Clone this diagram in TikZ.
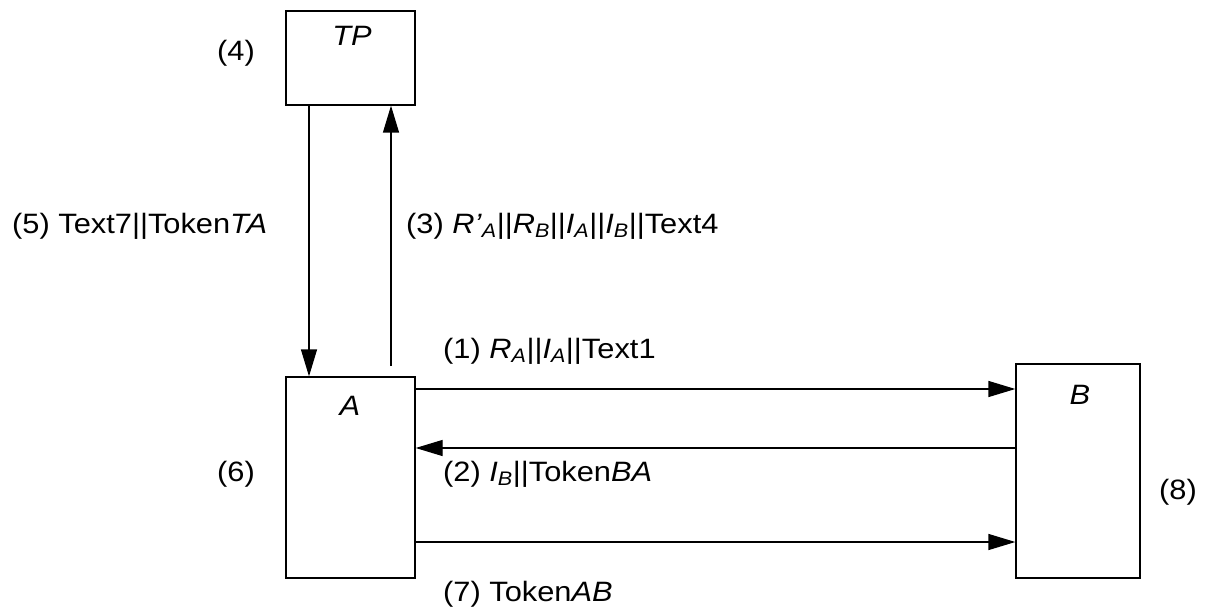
\documentclass[tikz,border=0pt]{standalone}
\usepackage{fontspec}
\setmainfont{Liberation Sans}[FakeStretch=1.1]
\usetikzlibrary{arrows.meta}
\newcommand\subi[1]{\textsubscript{\itshape #1}}
\begin{document}
\begin{tikzpicture}[x=1pt,y=-1pt,
  box/.style={draw,line width=1.3pt,inner sep=0pt},
  lbl/.style={inner sep=0pt,font=\fontsize{28}{34}\selectfont},
  arr/.style={line width=1.3pt,-{Triangle[length=27pt,width=16pt]}}]
\useasboundingbox (0,0) rectangle (1205,607);
% boxes
\node[box,minimum width=129pt,minimum height=94pt] (TP) at (350.5,58) {};
\node[box,minimum width=129pt,minimum height=201pt] (A) at (350.5,477.5) {};
\node[box,minimum width=124pt,minimum height=214pt] (B) at (1078,471) {};
% box labels
\node[lbl,anchor=base] (tpl) at (352,46) {\itshape TP};
\node[lbl,anchor=base] (al) at (350,415) {\itshape A};
\node[lbl,anchor=base] (bl) at (1080,404) {\itshape B};
\node[lbl,anchor=base] (n4) at (236,61) {(4)};
\node[lbl,anchor=base] (n6) at (236,481) {(6)};
\node[lbl,anchor=base] (n8) at (1178,499) {(8)};
% vertical arrows
\coordinate (xd) at (309,0);
\coordinate (xu) at (391,0);
\coordinate (us) at (391,366);
\draw[arr] (TP.south -| xd) -- (A.north -| xd);
\draw[arr] (us) -- (TP.south -| xu);
% horizontal arrows
\coordinate (y1) at (0,389);
\coordinate (y2) at (0,448);
\coordinate (y7) at (0,542);
\draw[arr] (A.east |- y1) -- (B.west |- y1);
\draw[arr] (B.west |- y2) -- (A.east |- y2);
\draw[arr] (A.east |- y7) -- (B.west |- y7);
% message labels
\node[lbl,anchor=base west] (m5) at (12,233) {(5) Text7||Token\textit{TA}};
\node[lbl,anchor=base west] (m3) at (406,233) {(3) \textit{R’}\subi{A}||\textit{R}\subi{B}||\textit{I}\subi{A}||\textit{I}\subi{B}||Text4};
\node[lbl,anchor=base west] (m1) at (443,358) {(1) \textit{R}\subi{A}||\textit{I}\subi{A}||Text1};
\node[lbl,anchor=base west] (m2) at (443,481) {(2) \textit{I}\subi{B}||Token\textit{BA}};
\node[lbl,anchor=base west] (m7) at (443,601) {(7) Token\textit{AB}};
\end{tikzpicture}
\end{document}
